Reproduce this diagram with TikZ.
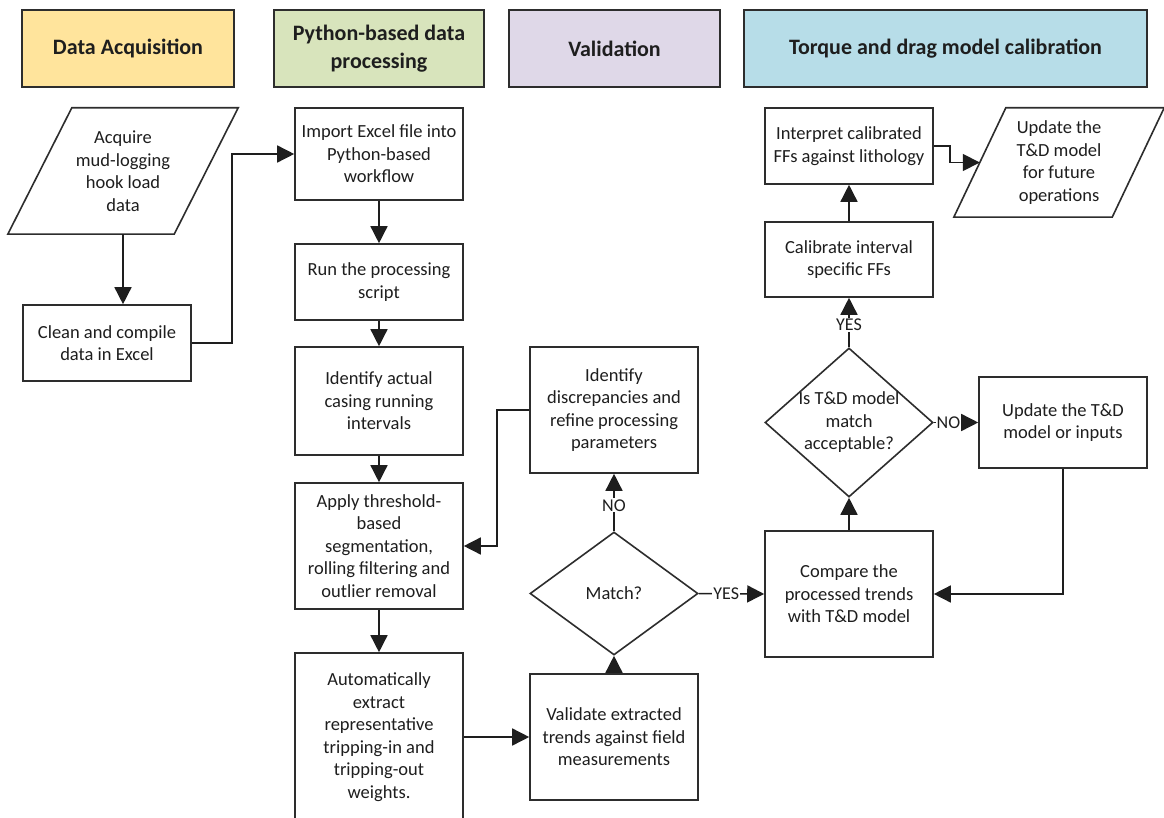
\documentclass[tikz,border=0pt]{standalone}
\usepackage{fontspec}
\setmainfont{Carlito}
\usetikzlibrary{shapes.geometric,arrows.meta,calc}
\definecolor{hdrA}{RGB}{255,228,156}
\definecolor{hdrB}{RGB}{216,228,188}
\definecolor{hdrC}{RGB}{223,216,232}
\definecolor{hdrD}{RGB}{183,221,232}
\definecolor{ink}{RGB}{30,30,30}
\definecolor{edge}{RGB}{45,45,45}
\begin{document}
\begin{tikzpicture}[x=1pt,y=-1pt,
  font=\fontsize{18.5}{22.5}\selectfont, text=ink,
  box/.style={draw=edge, line width=1.6pt, rectangle, minimum width=168pt, align=center, inner sep=2pt},
  hdr/.style={draw=edge, line width=1.3pt, align=center, font=\fontsize{22}{28}\selectfont\bfseries, minimum height=77pt},
  dia/.style={draw=edge, line width=1.6pt, diamond, inner sep=0pt},
  iobox/.style={rectangle, align=center, inner sep=0pt},
  ioedge/.style={draw=edge, line width=1.6pt},
  arr/.style={draw=ink, line width=1.5pt, -{Triangle[length=17pt,width=17pt]}},
  lab/.style={fill=white, inner sep=1pt, font=\fontsize{18}{20}\selectfont},
]
\useasboundingbox (0,0) rectangle (1164,818);
\clip (0,0) rectangle (1164,818);
\fill[white] (0,0) rectangle (1164,818);

% headers
\node[hdr, fill=hdrA, minimum width=212pt] (h1) at (128,48.5) {Data Acquisition};
\node[hdr, fill=hdrB, minimum width=210pt] (h2) at (379,48.5) {Python-based data\\processing};
\node[hdr, fill=hdrC, minimum width=211pt] (h3) at (614.5,48.5) {Validation};
\node[hdr, fill=hdrD, minimum width=403pt] (h4) at (945.5,48.5) {Torque and drag model calibration};

% data acquisition
\node[iobox, minimum width=166pt, minimum height=126pt] (acq) at (123,171) {Acquire\\mud-logging\\hook load\\data};
\draw[ioedge] ([xshift=32pt]acq.north west) -- ([xshift=32pt]acq.north east) -- ([xshift=-32pt]acq.south east) -- ([xshift=-32pt]acq.south west) -- cycle;
\node[box, minimum height=76pt] (clean) at (107,343) {Clean and compile\\data in Excel};

% python processing
\node[box, minimum height=92pt] (import) at (379,154) {Import Excel file into\\Python-based\\workflow};
\node[box, minimum height=76pt] (run) at (379,282) {Run the processing\\script};
\node[box, minimum height=108pt] (ident) at (379,401) {Identify actual\\casing running\\intervals};
\node[box, minimum height=126pt] (apply) at (379,546) {Apply threshold-\\based\\segmentation,\\rolling filtering and\\outlier removal};
\node[box, minimum height=168pt] (auto) at (379,737) {Automatically\\extract\\representative\\tripping-in and\\tripping-out\\weights.};

% validation
\node[box, minimum height=126pt] (disc) at (614,410) {Identify\\discrepancies and\\refine processing\\parameters};
\node[dia, minimum width=168pt, minimum height=123pt, label={[align=center]center:Match?}] (match) at (614,593.5) {};
\node[box, minimum height=126pt] (valid) at (614,737) {Validate extracted\\trends against field\\measurements};

% calibration
\node[box, minimum height=126pt] (comp) at (849,594) {Compare the\\processed trends\\with T\&D model};
\node[dia, minimum width=168pt, minimum height=149pt, label={[align=center]center:Is T\&D model\\match\\acceptable?}] (istd) at (849,422.5) {};
\node[box, minimum height=91pt] (updm) at (1063,422.5) {Update the T\&D\\model or inputs};
\node[box, minimum height=75pt] (calib) at (849,259.5) {Calibrate interval\\specific FFs};
\node[box, minimum height=76pt] (interp) at (849,146) {Interpret calibrated\\FFs against lithology};
\node[iobox, minimum width=158pt, minimum height=109pt] (upd) at (1059,162.5) {Update the\\T\&D model\\for future\\operations};
\draw[ioedge] ([xshift=26pt]upd.north west) -- ([xshift=26pt]upd.north east) -- ([xshift=-26pt]upd.south east) -- ([xshift=-26pt]upd.south west) -- cycle;

% connectors
\draw[arr] (acq.south) -- (acq.south |- clean.north);
\draw[arr] (clean.east) -- ++(40pt,0) |- (import.west);
\draw[arr] (import) -- (run);
\draw[arr] (run) -- (ident);
\draw[arr] (ident) -- (apply);
\draw[arr] (apply) -- (auto);
\draw[arr] (auto.east) -- (valid.west);
\draw[arr] (valid.north) -- (match.south);
\draw[arr] (match.north) -- node[lab, pos=0.45] {NO} (disc.south);
\draw[arr] (disc.west) -- ++(-32pt,0) |- (apply.east);
\draw[arr] (match.east) -- node[lab, pos=0.42] {YES} (comp.west);
\draw[arr] (comp.north) -- (istd.south);
\draw[arr] (istd.east) -- node[lab, pos=0.33] {NO} (updm.west);
\draw[arr] (updm.south) |- (comp.east);
\draw[arr] (istd.north) -- node[lab, pos=0.45] {YES} (calib.south);
\draw[arr] (calib.north) -- (interp.south);
\draw[arr] (interp.east) -- ++(16pt,0) |- (upd.west);
\end{tikzpicture}
\end{document}
